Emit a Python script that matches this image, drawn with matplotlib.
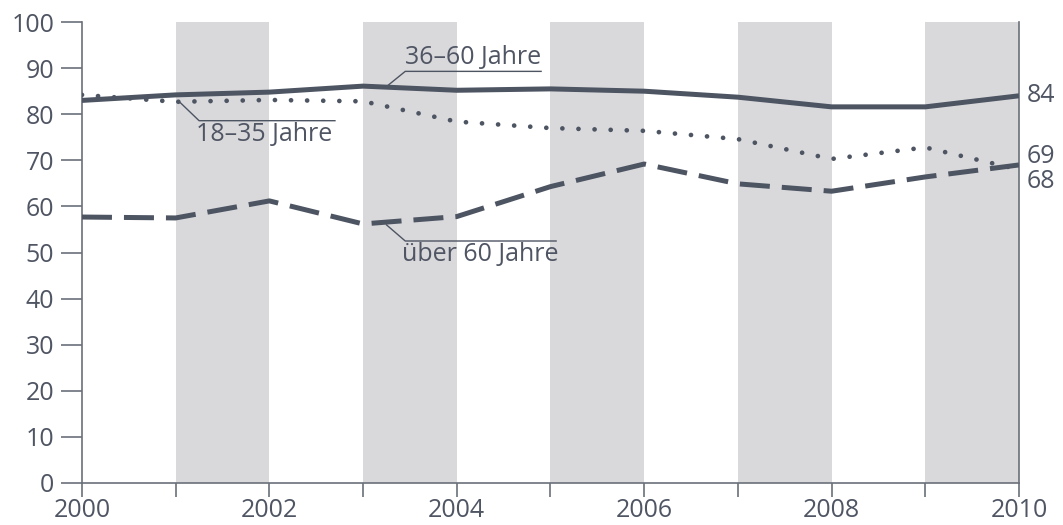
import matplotlib.pyplot as plt

plt.rcParams['font.family'] = ['Open Sans', 'DejaVu Sans']

years = list(range(2000, 2011))
age_36_60 = [83, 84.2, 84.8, 86.1, 85.2, 85.5, 85.0, 83.7, 81.6, 81.6, 84]
age_18_35 = [84.2, 82.7, 83.1, 82.8, 78.4, 77.0, 76.4, 74.6, 70.3, 72.8, 68]
age_60plus = [57.7, 57.5, 61.2, 56.2, 57.8, 64.3, 69.2, 64.9, 63.3, 66.4, 69]
band_starts = [2001, 2003, 2005, 2007, 2009]
end_labels = ['84', '69', '68']

line_col = '#4d5462'
text_col = '#4f5563'
band_col = '#d9d9dc'

fig = plt.figure(figsize=(10.63, 5.25), dpi=100)
ax = fig.add_axes([0.0771, 0.08, 0.8815, 0.878])

for b in band_starts:
    ax.axvspan(b, b + 1, color=band_col, lw=0, zorder=0)

ax.plot(years, age_36_60, color=line_col, lw=3.6, solid_capstyle='butt', zorder=3)
ax.plot(years, age_18_35, color=line_col, lw=3.4, linestyle=(0, (0.01, 3.4)),
        dash_capstyle='round', zorder=3)
ax.plot(years, age_60plus, color=line_col, lw=3.6, linestyle=(0, (6, 2.4)),
        dash_capstyle='butt', zorder=3)

ax.set_xlim(2000, 2010)
ax.set_ylim(0, 100)
ax.set_yticks(range(0, 101, 10))
ax.set_xticks(range(2000, 2011))
ax.set_xticklabels([str(y) if y % 2 == 0 else '' for y in years])

ax.spines['top'].set_visible(False)
for s in ['left', 'bottom', 'right']:
    ax.spines[s].set_color('#6a707a')
    ax.spines[s].set_linewidth(1.2)
ax.tick_params(axis='y', length=15, width=1.2, color='#6a707a', pad=5,
               labelsize=18, labelcolor=text_col)
ax.tick_params(axis='x', length=10, width=1.2, color='#6a707a', pad=1,
               labelsize=18, labelcolor=text_col)

# series labels with leader lines
lab_kw = dict(color=text_col, fontsize=18, zorder=4)
lead_kw = dict(color=line_col, lw=1.0, zorder=4)
ax.plot([2003.25, 2003.45, 2004.9], [86, 89.3, 89.3], **lead_kw)
ax.text(2003.45, 89.6, '36–60 Jahre', ha='left', va='bottom', **lab_kw)
ax.plot([2001.05, 2001.25, 2002.7], [82.5, 78.6, 78.6], **lead_kw)
ax.text(2001.22, 78.3, '18–35 Jahre', ha='left', va='top', **lab_kw)
ax.plot([2003.25, 2003.45, 2005.06], [56.0, 52.5, 52.5], **lead_kw)
ax.text(2003.42, 52.2, 'über 60 Jahre', ha='left', va='top', **lab_kw)

# end value labels
for val, lab in zip([84, 70.8, 65.5], end_labels):
    ax.text(2010.08, val, lab, ha='left', va='center', color=text_col,
            fontsize=18, clip_on=False)

fig.savefig('out.png', dpi=100)
